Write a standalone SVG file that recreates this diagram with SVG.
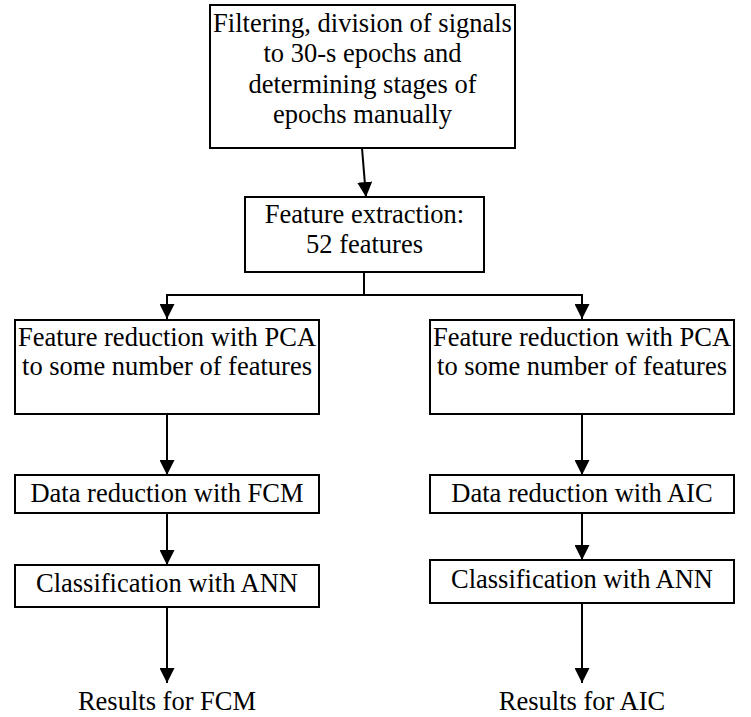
<svg xmlns="http://www.w3.org/2000/svg" width="751" height="717" viewBox="0 0 751 717">
<style>
.box{fill:#fff;stroke:#000;stroke-width:2}
.t{font-family:"Liberation Serif","Times New Roman",serif;font-size:26.5px;fill:#000;text-anchor:middle}
.c{fill:none;stroke:#000;stroke-width:2}
</style>
<defs>
<marker id="ah" markerWidth="7.5" markerHeight="7.5" refX="7.5" refY="3.75" orient="auto" markerUnits="strokeWidth">
<path d="M0,0 L7.5,3.75 L0,7.5 Z" fill="#000"/>
</marker>
</defs>
<rect width="751" height="717" fill="#fff"/>
<g id="connectors">
<path class="c" d="M362,148 L366,197" marker-end="url(#ah)"/>
<path class="c" d="M364,272 L364,295"/>
<path class="c" d="M364,295 L167,295 L167,319" marker-end="url(#ah)"/>
<path class="c" d="M364,295 L582,295 L582,319" marker-end="url(#ah)"/>
<path class="c" d="M167,414 L167,475" marker-end="url(#ah)"/>
<path class="c" d="M167,513 L167,565" marker-end="url(#ah)"/>
<path class="c" d="M167,607 L167,683" marker-end="url(#ah)"/>
<path class="c" d="M582,414 L582,475" marker-end="url(#ah)"/>
<path class="c" d="M582,513 L582,560" marker-end="url(#ah)"/>
<path class="c" d="M582,603 L582,683" marker-end="url(#ah)"/>
</g>
<g id="n1">
<rect class="box" x="210" y="5" width="305" height="143"/>
<text class="t" x="362.5" y="32">Filtering, division of signals</text>
<text class="t" x="362.5" y="62">to 30-s epochs and</text>
<text class="t" x="362.5" y="93">determining stages of</text>
<text class="t" x="362.5" y="123">epochs manually</text>
</g>
<g id="n2">
<rect class="box" x="245" y="197" width="239" height="75"/>
<text class="t" x="364.5" y="223">Feature extraction:</text>
<text class="t" x="364.5" y="253">52 features</text>
</g>
<g id="n3">
<rect class="box" x="15" y="320" width="304" height="94"/>
<text class="t" x="167" y="346">Feature reduction with PCA</text>
<text class="t" x="167" y="375">to some number of features</text>
</g>
<g id="n4">
<rect class="box" x="430" y="320" width="304" height="94"/>
<text class="t" x="582" y="346">Feature reduction with PCA</text>
<text class="t" x="582" y="375">to some number of features</text>
</g>
<g id="n5">
<rect class="box" x="15" y="475" width="304" height="38"/>
<text class="t" x="167" y="502">Data reduction with FCM</text>
</g>
<g id="n6">
<rect class="box" x="15" y="565" width="304" height="42"/>
<text class="t" x="167" y="592">Classification with ANN</text>
</g>
<g id="n7">
<rect class="box" x="430" y="475" width="304" height="38"/>
<text class="t" x="582" y="502">Data reduction with AIC</text>
</g>
<g id="n8">
<rect class="box" x="430" y="560" width="304" height="43"/>
<text class="t" x="582" y="588">Classification with ANN</text>
</g>
<g id="n9">
<text class="t" x="167" y="710">Results for FCM</text>
</g>
<g id="n10">
<text class="t" x="582" y="710">Results for AIC</text>
</g>
</svg>
